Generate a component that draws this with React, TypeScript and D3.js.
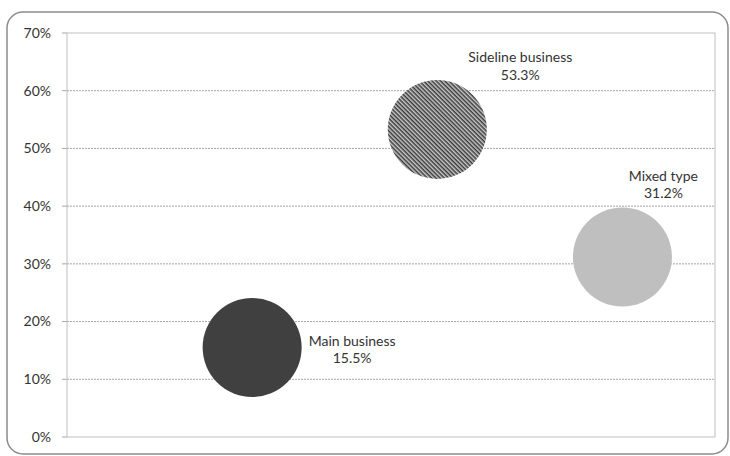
import React from "react";
import * as d3 from "d3";

const categories = ["Main business", "Sideline business", "Mixed type"];
const xValues = [1, 2, 3];
const yValues = [15.5, 53.3, 31.2];
const bubbleSizes = [1, 1, 1];
const yTicks = [0, 10, 20, 30, 40, 50, 60, 70];
const labelOffsets: [number, number][] = [
  [100, -2],
  [83, -67],
  [41, -76],
];

const W = 730;
const H = 456;
const plot = { left: 67, right: 715, top: 33, bottom: 437 };
const FONT = "Lato, 'Open Sans', sans-serif";

export default function App() {
  const x = d3.scaleLinear().domain([0, 3.5]).range([plot.left, plot.right]);
  const y = d3.scaleLinear().domain([0, 70]).range([plot.bottom, plot.top]);
  const r = d3.scaleSqrt().domain([0, 1]).range([0, 49.5]);
  const fills = ["#404040", "url(#stripes)", "#bfbfbf"];

  return (
    <svg
      width={W}
      height={H}
      style={{ position: "fixed", left: 0, top: 0, background: "#fff" }}
    >
      <defs>
        <pattern
          id="stripes"
          patternUnits="userSpaceOnUse"
          width={3}
          height={3}
          patternTransform="rotate(45)"
        >
          <rect width={3} height={3} fill="#c8c8c8" />
          <rect width={3} height={1.5} fill="#3a3a3a" />
        </pattern>
      </defs>
      <rect
        x={7}
        y={12}
        width={721}
        height={442}
        rx={16}
        ry={16}
        fill="#fff"
        stroke="#8c8c8c"
        strokeWidth={1.5}
      />
      {yTicks.map((t) => (
        <g key={t}>
          {t > 0 && t < 70 && (
            <line
              x1={plot.left}
              x2={plot.right}
              y1={y(t)}
              y2={y(t)}
              stroke="#a6a6a6"
              strokeWidth={1}
              strokeDasharray="2,1"
            />
          )}
          <line x1={62} x2={plot.left} y1={y(t)} y2={y(t)} stroke="#a6a6a6" />
          <text
            x={51}
            y={y(t)}
            dy="0.35em"
            textAnchor="end"
            fontFamily={FONT}
            fontSize={14}
            fill="#333"
          >
            {t}%
          </text>
        </g>
      ))}
      <rect
        x={plot.left}
        y={plot.top}
        width={plot.right - plot.left}
        height={plot.bottom - plot.top}
        fill="none"
        stroke="#bfbfbf"
        strokeWidth={1}
      />
      {categories.map((c, i) => (
        <circle
          key={c}
          cx={x(xValues[i])}
          cy={y(yValues[i])}
          r={r(bubbleSizes[i])}
          fill={fills[i]}
        />
      ))}
      {categories.map((c, i) => {
        const lx = x(xValues[i]) + labelOffsets[i][0];
        const ly = y(yValues[i]) + labelOffsets[i][1];
        return (
          <text
            key={c}
            x={lx}
            y={ly}
            textAnchor="middle"
            fontFamily={FONT}
            fontSize={14}
            fill="#333"
          >
            <tspan x={lx}>{c}</tspan>
            <tspan x={lx} dy={17.5}>
              {yValues[i].toFixed(1)}%
            </tspan>
          </text>
        );
      })}
    </svg>
  );
}
